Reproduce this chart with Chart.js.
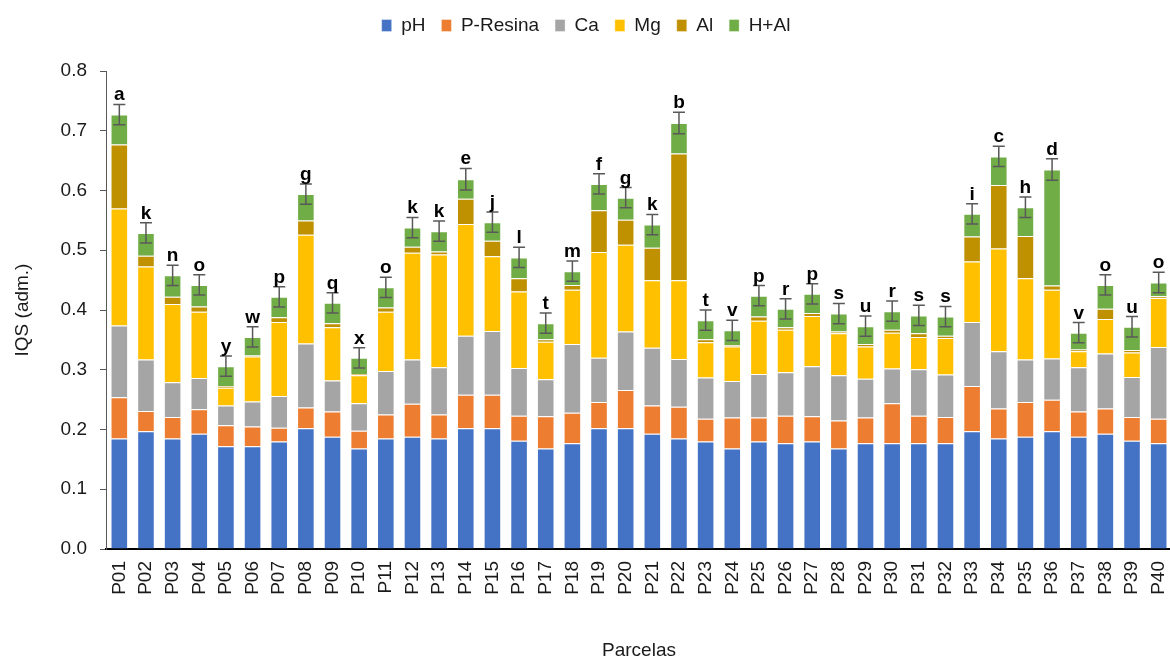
<!DOCTYPE html>
<html>
<head>
<meta charset="utf-8">
<script src="https://cdn.jsdelivr.net/npm/chart.js@4.4.1/dist/chart.umd.min.js"></script>
<style>
    body { margin: 0; background: #ffffff; }
    #wrap { width: 1170px; height: 662px; overflow: hidden; }
</style>
</head>
<body>
<div id="wrap"><canvas id="iqsChart" width="1172" height="662"></canvas></div>
<script>
"use strict";

const parcelas = ['P01', 'P02', 'P03', 'P04', 'P05', 'P06', 'P07', 'P08', 'P09', 'P10',
    'P11', 'P12', 'P13', 'P14', 'P15', 'P16', 'P17', 'P18', 'P19', 'P20',
    'P21', 'P22', 'P23', 'P24', 'P25', 'P26', 'P27', 'P28', 'P29', 'P30',
    'P31', 'P32', 'P33', 'P34', 'P35', 'P36', 'P37', 'P38', 'P39', 'P40'];

const phVals = [0.185, 0.197, 0.185, 0.193, 0.172, 0.172, 0.180, 0.202, 0.188, 0.168,
    0.185, 0.188, 0.185, 0.202, 0.202, 0.181, 0.168, 0.177, 0.202, 0.202,
    0.193, 0.185, 0.180, 0.168, 0.180, 0.177, 0.180, 0.168, 0.177, 0.177,
    0.177, 0.177, 0.197, 0.185, 0.188, 0.197, 0.188, 0.193, 0.181, 0.177];
const pResinaVals = [0.069, 0.034, 0.036, 0.041, 0.035, 0.033, 0.023, 0.035, 0.042, 0.030,
    0.040, 0.055, 0.040, 0.056, 0.056, 0.042, 0.054, 0.051, 0.044, 0.064,
    0.047, 0.053, 0.038, 0.052, 0.040, 0.046, 0.042, 0.047, 0.043, 0.067,
    0.046, 0.044, 0.076, 0.050, 0.058, 0.053, 0.042, 0.042, 0.040, 0.041];
const caVals = [0.120, 0.086, 0.058, 0.052, 0.033, 0.042, 0.053, 0.107, 0.052, 0.046,
    0.073, 0.074, 0.079, 0.099, 0.107, 0.080, 0.062, 0.115, 0.074, 0.098,
    0.097, 0.080, 0.069, 0.061, 0.073, 0.073, 0.084, 0.076, 0.065, 0.058,
    0.078, 0.071, 0.107, 0.096, 0.071, 0.069, 0.074, 0.092, 0.067, 0.120];
const mgVals = [0.196, 0.156, 0.131, 0.111, 0.030, 0.075, 0.124, 0.182, 0.089, 0.047,
    0.099, 0.179, 0.189, 0.187, 0.125, 0.128, 0.063, 0.091, 0.177, 0.145,
    0.113, 0.132, 0.059, 0.058, 0.089, 0.071, 0.084, 0.070, 0.054, 0.060,
    0.054, 0.061, 0.101, 0.172, 0.136, 0.115, 0.027, 0.058, 0.041, 0.082];
const alVals = [0.107, 0.018, 0.012, 0.009, 0.003, 0.002, 0.008, 0.024, 0.007, 0.002,
    0.007, 0.010, 0.005, 0.042, 0.026, 0.022, 0.004, 0.008, 0.070, 0.042,
    0.054, 0.212, 0.005, 0.002, 0.007, 0.004, 0.005, 0.003, 0.004, 0.005,
    0.006, 0.004, 0.042, 0.106, 0.071, 0.007, 0.003, 0.017, 0.004, 0.003];
const hAlVals = [0.050, 0.038, 0.036, 0.036, 0.033, 0.031, 0.034, 0.044, 0.034, 0.027,
    0.034, 0.032, 0.034, 0.033, 0.031, 0.035, 0.027, 0.023, 0.044, 0.037,
    0.039, 0.051, 0.032, 0.025, 0.035, 0.031, 0.032, 0.030, 0.030, 0.031,
    0.030, 0.032, 0.038, 0.048, 0.048, 0.194, 0.028, 0.040, 0.039, 0.023];

// desvio mostrado nas barras de erro
const erros = [0.017, 0.017, 0.017, 0.017, 0.017, 0.017, 0.017, 0.017, 0.017, 0.017,
    0.017, 0.017, 0.017, 0.018, 0.017, 0.017, 0.017, 0.017, 0.017, 0.017,
    0.017, 0.018, 0.017, 0.017, 0.017, 0.017, 0.017, 0.017, 0.017, 0.017,
    0.017, 0.017, 0.017, 0.017, 0.017, 0.018, 0.017, 0.017, 0.017, 0.017];
const letras = ['a', 'k', 'n', 'o', 'y', 'w', 'p', 'g', 'q', 'x',
    'o', 'k', 'k', 'e', 'j', 'l', 't', 'm', 'f', 'g',
    'k', 'b', 't', 'v', 'p', 'r', 'p', 's', 'u', 'r',
    's', 's', 'i', 'c', 'h', 'd', 'v', 'o', 'u', 'o'];

const yTicks = [0, 0.1, 0.2, 0.3, 0.4, 0.5, 0.6, 0.7, 0.8];

const fontFamily = "'Liberation Sans', Arial, sans-serif";
const textColor = '#1a1a1a';

const series = [
    { label: 'pH', data: phVals, color: '#4472C4' },
    { label: 'P-Resina', data: pResinaVals, color: '#ED7D31' },
    { label: 'Ca', data: caVals, color: '#A5A5A5' },
    { label: 'Mg', data: mgVals, color: '#FFC000' },
    { label: 'Al', data: alVals, color: '#BF9000' },
    { label: 'H+Al', data: hAlVals, color: '#70AD47' }
];

function totalAt(index) {
    let sum = 0;
    series.forEach(s => { sum += s.data[index]; });
    return sum;
}

// legenda com altura fixa para alinhar a área do gráfico
const fixLegend = {
    id: 'fixLegend',
    beforeLayout(chart) {
        const lg = chart.legend;
        if (lg && !lg._fixed) {
            const fit = lg.fit;
            lg.fit = function () {
                fit.call(this);
                this.height = 71;
            };
            lg._fixed = true;
        }
    }
};

const errorBars = {
    id: 'errorBars',
    afterDatasetsDraw(chart) {
        const ctx = chart.ctx;
        const x = chart.scales.x;
        const y = chart.scales.y;
        ctx.save();
        for (let index = 0; index < parcelas.length; index++) {
            const total = totalAt(index);
            const px = x.getPixelForValue(index);
            const top = y.getPixelForValue(total + erros[index]);
            const bottom = y.getPixelForValue(total - erros[index]);
            ctx.strokeStyle = '#595959';
            ctx.lineWidth = 1.5;
            ctx.beginPath();
            ctx.moveTo(px, top);
            ctx.lineTo(px, bottom);
            ctx.moveTo(px - 6, top);
            ctx.lineTo(px + 6, top);
            ctx.moveTo(px - 6, bottom);
            ctx.lineTo(px + 6, bottom);
            ctx.stroke();

            ctx.fillStyle = '#000000';
            ctx.font = 'bold 19px ' + fontFamily;
            ctx.textAlign = 'center';
            ctx.textBaseline = 'alphabetic';
            ctx.fillText(letras[index], px, top - 4);
        }
        ctx.restore();
    }
};

const ctx = document.getElementById('iqsChart').getContext('2d');
new Chart(ctx, {
    type: 'bar',
    data: {
        labels: parcelas,
        datasets: series.map(s => ({
            label: s.label,
            data: s.data,
            backgroundColor: s.color,
            borderColor: 'rgba(255, 255, 255, 0.35)',
            borderWidth: 1,
            categoryPercentage: 1.0,
            barPercentage: 0.66
        }))
    },
    options: {
        responsive: false,
        animation: false,
        layout: { padding: 0 },
        plugins: {
            legend: {
                position: 'top',
                labels: {
                    font: { family: fontFamily, size: 19 },
                    color: textColor,
                    boxWidth: 10,
                    boxHeight: 12,
                    padding: 16
                }
            },
            tooltip: { enabled: false }
        },
        scales: {
            x: {
                stacked: true,
                afterFit(scale) {
                    scale.height = 113;
                    scale.paddingLeft = 0;
                    scale.paddingRight = 0;
                },
                grid: { display: true, drawOnChartArea: false, drawTicks: false },
                border: { display: true, color: '#000000', width: 2 },
                ticks: {
                    font: { family: fontFamily, size: 19 },
                    color: textColor,
                    maxRotation: 90,
                    minRotation: 90,
                    autoSkip: false,
                    padding: 12
                },
                title: {
                    display: true,
                    text: 'Parcelas',
                    font: { family: fontFamily, size: 19 },
                    color: textColor,
                    padding: { top: 0, bottom: 0 }
                }
            },
            y: {
                stacked: true,
                min: 0,
                max: 0.8,
                afterFit(scale) { scale.width = 106; },
                afterBuildTicks(scale) {
                    scale.ticks = yTicks.map(v => ({ value: v }));
                },
                grid: { display: true, drawOnChartArea: false, drawTicks: true, tickLength: 6, color: '#595959' },
                border: { display: true, color: '#595959', width: 1 },
                ticks: {
                    font: { family: fontFamily, size: 19 },
                    color: textColor,
                    padding: 13,
                    callback: value => Number(value).toFixed(1)
                },
                title: {
                    display: true,
                    text: 'IQS (adm.)',
                    font: { family: fontFamily, size: 19 },
                    color: textColor,
                    padding: { top: 11, bottom: 0 }
                }
            }
        }
    },
    plugins: [fixLegend, errorBars]
});
</script>
</body>
</html>
